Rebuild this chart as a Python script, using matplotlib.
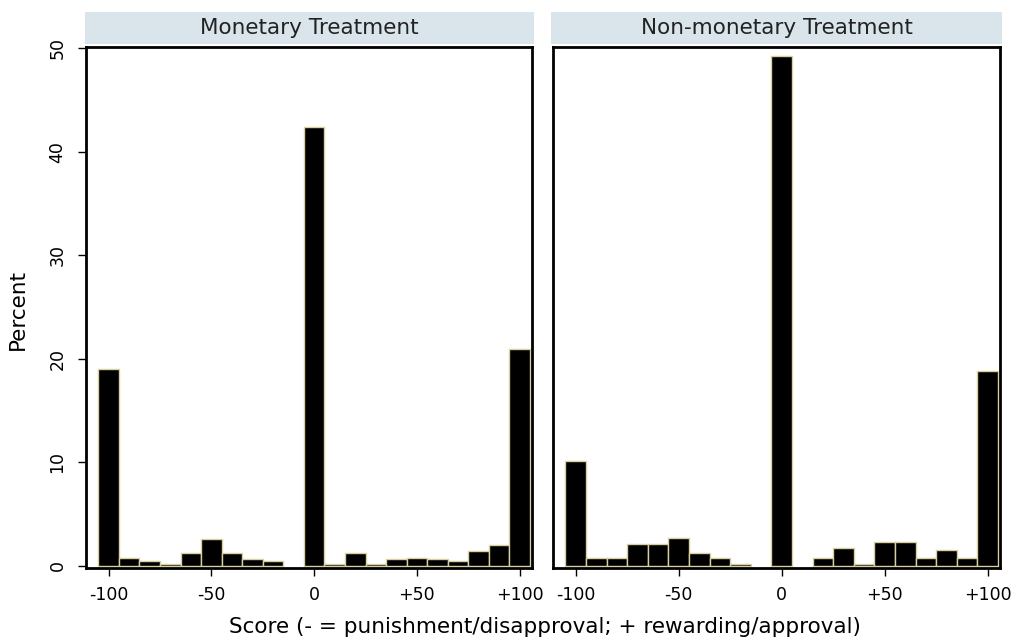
import numpy as np
import matplotlib
matplotlib.use("Agg")
import matplotlib.pyplot as plt
from matplotlib.patches import Rectangle

plt.rcParams['font.family'] = ['DejaVu Sans']

# bin centres (score), width 10
scores = np.arange(-100, 101, 10)
monetary = [19.0, 0.8, 0.45, 0.15, 1.25, 2.6, 1.25, 0.65, 0.5, 0.0, 42.4,
            0.15, 1.25, 0.15, 0.7, 0.8, 0.7, 0.5, 1.4, 2.0, 20.9]
nonmonetary = [10.1, 0.75, 0.75, 2.1, 2.1, 2.7, 1.2, 0.75, 0.2, 0.0, 49.2,
               0.0, 0.75, 1.7, 0.2, 2.35, 2.35, 0.75, 1.55, 0.75, 18.8]
titles = ["Monetary Treatment", "Non-monetary Treatment"]
xticks = [-100, -50, 0, 50, 100]
xticklabels = ["-100", "-50", "0", "+50", "+100"]
yticks = [0, 10, 20, 30, 40, 50]

W, H = 1011, 641
fig = plt.figure(figsize=(W / 100, H / 100), dpi=100)

# axes boxes in pixels: left, right, top, bottom
boxes = [(86, 532, 47, 568), (553, 1000, 47, 568)]
strips = [(85, 534), (551, 1002)]
strip_col = "#d9e5eb"
edge_col = "#d9d0a0"

for k, (data, title) in enumerate(zip([monetary, nonmonetary], titles)):
    l, r, t, b = boxes[k]
    ax = fig.add_axes([l / W, (H - b) / H, (r - l) / W, (b - t) / H])
    vals = np.array(data)
    mask = vals > 0
    ax.bar(scores[mask], vals[mask], width=10, color="black",
           edgecolor=edge_col, linewidth=1.0, align="center")
    ax.set_xlim(-111, 106)
    ax.set_ylim(-0.2, 50.1)
    for s in ax.spines.values():
        s.set_linewidth(2.0)
        s.set_color("black")
    ax.set_xticks(xticks)
    ax.set_xticklabels(xticklabels, fontsize=12.5)
    ax.tick_params(axis="x", length=6, width=1, pad=7)
    if k == 0:
        ax.set_yticks(yticks)
        ax.set_yticklabels([str(v) for v in yticks], rotation=90,
                           va="center", fontsize=12.5)
        ax.tick_params(axis="y", length=6, width=1, pad=8)
    else:
        ax.set_yticks([])

    # title strip
    sl, sr = strips[k]
    fig.patches.append(Rectangle((sl / W, (H - 44) / H), (sr - sl) / W, 32 / H,
                                 transform=fig.transFigure, facecolor=strip_col,
                                 edgecolor="none"))
    fig.text((sl + sr) / 2 / W, (H - 28) / H, title, ha="center", va="center",
             fontsize=15.5, color="#222222")

fig.text(18 / W, (H - 310) / H, "Percent", rotation=90, ha="center",
         va="center", fontsize=15.5)
fig.text(545 / W, (H - 627) / H,
         "Score (- = punishment/disapproval; + rewarding/approval)",
         ha="center", va="center", fontsize=15.5)

fig.savefig("out.png", dpi=100)
